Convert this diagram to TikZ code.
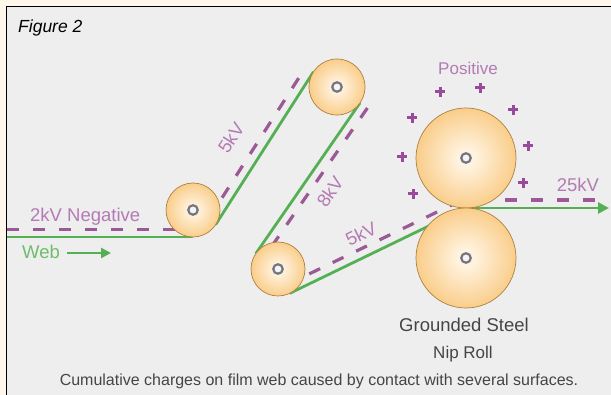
\documentclass[tikz,border=0pt]{standalone}
\usepackage{fontspec}
\setmainfont{Liberation Sans}
\usetikzlibrary{arrows.meta}
\definecolor{cream}{HTML}{FFF8EA}
\definecolor{panel}{HTML}{EEEEEE}
\definecolor{webgreen}{HTML}{55B055}
\definecolor{dashmag}{HTML}{9B5A96}
\definecolor{labelmag}{HTML}{B47AB4}
\definecolor{plusmag}{HTML}{9A4A9A}
\definecolor{rollin}{HTML}{FFF3E0}
\definecolor{rollmid}{HTML}{F9C87E}
\definecolor{rollout}{HTML}{F2AE52}
\definecolor{rolledge}{HTML}{B07F40}
\definecolor{hubgray}{HTML}{75757F}
\definecolor{textgray}{HTML}{454545}
\pgfdeclareradialshading{rollershade}{\pgfpoint{0bp}{0bp}}{color(0bp)=(rollin); color(4bp)=(rollin); color(28bp)=(rollmid); color(50bp)=(rollout)}
\begin{document}
\begin{tikzpicture}[x=1pt,y=-1pt,
  web/.style={draw=webgreen, line width=2.8pt},
  charge/.style={draw=dashmag, line width=3.2pt, dash pattern=on 12pt off 14pt},
  roll/.style={circle, inner sep=0pt, draw=rolledge, line width=0.7pt, shade, shading=rollershade},
  hub/.style={circle, inner sep=0pt, minimum size=9.5pt, draw=hubgray, line width=2.2pt, fill=panel!60!white},
  lbl/.style={inner sep=0pt, font=\fontsize{18.5}{20}\selectfont},
  plusmark/.style={draw=plusmag, line width=3pt}
]
\useasboundingbox (0,0) rectangle (611,395);
\fill[cream] (0,0) rectangle (611,395);
\fill[panel] (7,7) rectangle (611,395);
\draw[line width=1.4pt] (6.6,395) -- (6.6,6.6) -- (611,6.6);

% web tangent points
\coordinate (wstart) at (7,237);
\coordinate (t1a) at (193,237);
\coordinate (t1b) at (215.7,224.5);
\coordinate (t2a) at (313.4,71.9);
\coordinate (t2b) at (360.0,102.9);
\coordinate (t3a) at (255.8,253.6);
\coordinate (t3b) at (289.8,293.3);
\coordinate (nip) at (466,208);
\coordinate (wend) at (609,208);

% charge line ends
\coordinate (ca1) at (7,229.5);
\coordinate (ca2) at (190,229.5);
\coordinate (cb1) at (208.1,219.6);
\coordinate (cb2) at (305.8,67.0);
\coordinate (cc1) at (367.4,108.0);
\coordinate (cc2) at (263.2,258.7);
\coordinate (cd1) at (285.9,285.2);
\coordinate (cd2) at (462.1,199.9);
\coordinate (ce1) at (505,200);
\coordinate (ce2) at (602,200);

% charge (dashed) lines
\draw[charge] (ca1) -- (ca2);
\draw[charge] (cb1) -- (cb2);
\draw[charge] (cc1) -- (cc2);
\draw[charge] (cd1) -- (cd2);
\draw[charge] (ce1) -- (ce2);

% web (green)
\draw[web] (wstart) -- (t1a);
\draw[web] (t1b) -- (t2a);
\draw[web] (t2b) -- (t3a);
\draw[web] (t3b) -- (nip);
\draw[web, -{Triangle[length=11pt,width=11pt]}] (nip) -- (wend);

% rollers
\node[roll, minimum size=54pt] (r1) at (193,210) {};
\node[roll, minimum size=56pt] (r2) at (337,87) {};
\node[roll, minimum size=54pt] (r3) at (278,269) {};
\node[roll, minimum size=100pt] (nipT) at (466,158) {};
\node[roll, minimum size=100pt] (nipB) at (466,258) {};
\node[hub] (h1) at (r1.center) {};
\node[hub] (h2) at (r2.center) {};
\node[hub] (h3) at (r3.center) {};
\node[hub] (h4) at (nipT.center) {};
\node[hub] (h5) at (nipB.center) {};

% positive charges
\foreach \px/\py in {440/92, 480/88, 513/110, 412/118, 528/146, 402/157, 523/183, 413/194}{
  \draw[plusmark] (\px-5,\py) -- (\px+5,\py);
  \draw[plusmark] (\px,\py-5) -- (\px,\py+5);
}

% labels
\node[lbl, anchor=base west, font=\fontsize{17.5}{20}\selectfont\itshape] (fig) at (18,33) {Figure 2};
\node[lbl, anchor=base west, text=labelmag] (neg) at (30,221.5) {2kV Negative};
\node[lbl, anchor=base west, text=webgreen!85!white] (weblbl) at (22,258.5) {Web};
\coordinate (wa1) at (67,253);
\coordinate (wa2) at (111,253);
\draw[web, -{Triangle[length=10pt,width=10pt]}] (wa1) -- (wa2);
\node[lbl, text=labelmag, rotate=57] (kv5a) at (231,138) {5kV};
\node[lbl, text=labelmag, rotate=55] (kv8) at (330,192) {8kV};
\node[lbl, text=labelmag, rotate=26] (kv5b) at (361,234) {5kV};
\node[lbl, anchor=base, text=labelmag, font=\fontsize{17}{20}\selectfont] (pos) at (468,75) {Positive};
\node[lbl, anchor=base, text=labelmag] (kv25) at (578,192) {25kV};
\node[lbl, anchor=base, text=textgray] (gs) at (464,332) {Grounded Steel};
\node[lbl, anchor=base, text=textgray, font=\fontsize{17}{20}\selectfont] (nr) at (463,359) {Nip Roll};
\node[lbl, anchor=base, text=textgray, font=\fontsize{16}{18}\selectfont] (cap) at (319,386) {Cumulative charges on film web caused by contact with several surfaces.};
\end{tikzpicture}
\end{document}
